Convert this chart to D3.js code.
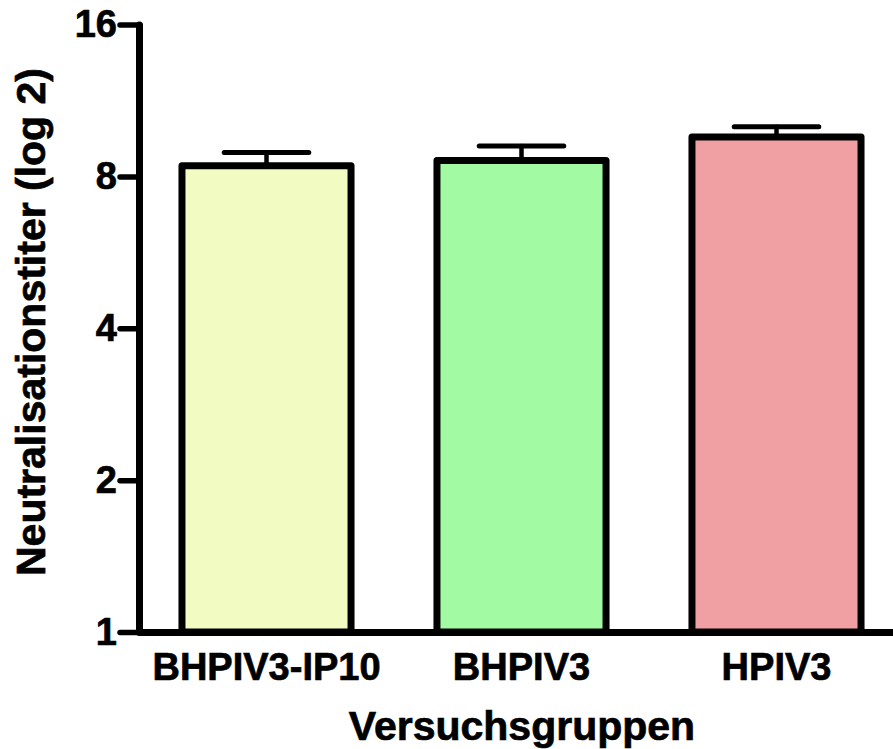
<!DOCTYPE html>
<html>
<head>
<meta charset="utf-8">
<script src="https://cdn.jsdelivr.net/npm/d3@7"></script>
<style>
  body { margin: 0; background: #fff; }
  text { font-family: "Liberation Sans", Arial, sans-serif; font-weight: bold; fill: #000; stroke: #000; stroke-width: 0.7px; }
</style>
</head>
<body>
<div id="chart"></div>
<script>
    const groups = ["BHPIV3-IP10", "BHPIV3", "HPIV3"];
    const means = [8.40, 8.60, 9.57];
    const sems = [0.52, 0.59, 0.46];
    const fills = ["#f2fcc2", "#a2fba2", "#f0a0a2"];
    const yTicks = [1, 2, 4, 8, 16];

    const width = 893, height = 749;

    const svg = d3.select("#chart")
        .append("svg")
        .attr("width", width)
        .attr("height", height);

    const y = d3.scaleLog()
        .base(2)
        .domain([1, 16])
        .range([632, 24.5]);

    const x = d3.scaleBand()
        .domain(groups)
        .range([139, 904])
        .paddingInner(0.337)
        .paddingOuter(0.1685);

    const data = groups.map((g, i) => ({ group: g, mean: means[i], sem: sems[i], fill: fills[i] }));

    // error bars first, bars drawn over them
    const err = svg.append("g")
        .attr("stroke", "#000")
        .attr("stroke-linecap", "round");

    err.selectAll("line.stem")
        .data(data)
        .join("line")
        .attr("class", "stem")
        .attr("stroke-width", 4.5)
        .attr("x1", d => x(d.group) + x.bandwidth() / 2)
        .attr("x2", d => x(d.group) + x.bandwidth() / 2)
        .attr("y1", d => y(d.mean))
        .attr("y2", d => y(d.mean + d.sem));

    err.selectAll("line.cap")
        .data(data)
        .join("line")
        .attr("class", "cap")
        .attr("stroke-width", 5)
        .attr("x1", d => x(d.group) + x.bandwidth() * 0.25)
        .attr("x2", d => x(d.group) + x.bandwidth() * 0.75)
        .attr("y1", d => y(d.mean + d.sem))
        .attr("y2", d => y(d.mean + d.sem));

    svg.append("g")
        .selectAll("rect")
        .data(data)
        .join("rect")
        .attr("x", d => x(d.group))
        .attr("width", x.bandwidth())
        .attr("y", d => y(d.mean))
        .attr("height", d => y(1) - y(d.mean))
        .attr("fill", d => d.fill)
        .attr("stroke", "#000")
        .attr("stroke-width", 7)
        .attr("stroke-linejoin", "round");

    // y axis
    const yAxis = svg.append("g")
        .attr("transform", "translate(139,0)")
        .call(d3.axisLeft(y)
            .tickValues(yTicks)
            .tickFormat(d3.format("d"))
            .tickSize(19)
            .tickSizeOuter(0)
            .tickPadding(3));

    yAxis.select(".domain")
        .attr("stroke", "#000")
        .attr("stroke-width", 7)
        .attr("stroke-linecap", "round");
    yAxis.selectAll(".tick line")
        .attr("stroke", "#000")
        .attr("stroke-width", 5.5)
        .attr("stroke-linecap", "round");
    yAxis.selectAll(".tick text")
        .attr("font-size", 38)
        .attr("font-family", null);

    // x axis
    const xAxis = svg.append("g")
        .attr("transform", "translate(0,632)")
        .call(d3.axisBottom(x)
            .tickSize(0)
            .tickSizeOuter(0)
            .tickPadding(21));

    xAxis.select(".domain")
        .attr("stroke", "#000")
        .attr("stroke-width", 7);
    xAxis.selectAll(".tick text")
        .attr("font-size", 38)
        .attr("font-family", null);

    // axis titles
    svg.append("text")
        .attr("x", 522)
        .attr("y", 740)
        .attr("text-anchor", "middle")
        .attr("font-size", 41)
        .text("Versuchsgruppen");

    svg.append("text")
        .attr("transform", "translate(45,322) rotate(-90)")
        .attr("text-anchor", "middle")
        .attr("font-size", 41)
        .text("Neutralisationstiter (log 2)");
</script>
</body>
</html>
